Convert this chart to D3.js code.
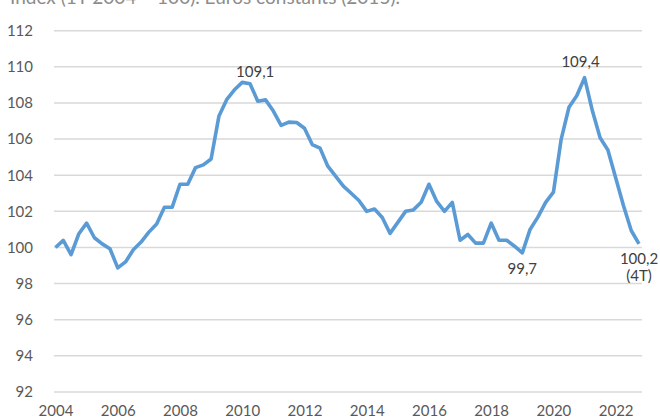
<!DOCTYPE html>
<html>
<head>
<meta charset="utf-8">
<script src="https://cdn.jsdelivr.net/npm/d3@7"></script>
<style>
  html, body { margin: 0; padding: 0; background: #fff; }
  svg { display: block; }
</style>
</head>
<body>
<svg id="chart" width="660" height="420"></svg>
<script>
// quarterly index, 1T 2004 .. 4T 2022
const years = d3.range(2004, 2023);
const quarters = ["1T", "2T", "3T", "4T"];
const values = [
  100.0, 100.39, 99.6, 100.76,
  101.35, 100.54, 100.2, 99.93,
  98.87, 99.2, 99.87, 100.3,
  100.85, 101.3, 102.23, 102.23,
  103.5, 103.5, 104.42, 104.57,
  104.9, 107.26, 108.18, 108.73,
  109.14, 109.06, 108.1, 108.17,
  107.55, 106.76, 106.94, 106.92,
  106.6, 105.7, 105.5, 104.5,
  103.95, 103.4, 103.0, 102.6,
  102.0, 102.13, 101.66, 100.78,
  101.39, 102.0, 102.08, 102.5,
  103.5, 102.55, 102.0, 102.5,
  100.4, 100.72, 100.24, 100.24,
  101.35, 100.4, 100.4, 100.07,
  99.7, 101.0, 101.68, 102.5,
  103.06, 106.0, 107.76, 108.4,
  109.4, 107.58, 106.07, 105.4,
  103.86, 102.32, 100.94, 100.2
];
const yTicks = d3.range(92, 113, 2);
const xTickYears = [2004, 2006, 2008, 2010, 2012, 2014, 2016, 2018, 2020, 2022];
const callouts = [
  { i: 24, text: ["109,1"], dx: 13, dy: -5 },
  { i: 68, text: ["109,4"], dx: -4, dy: -11 },
  { i: 60, text: ["99,7"], dx: 0, dy: 21 },
  { i: 75, text: ["100,2", "(4T)"], dx: 0, dy: 20 }
];
const title = "Índex (1T 2004 = 100). Euros constants (2015).";

const data = values.map((v, i) => ({
  i: i, year: years[Math.floor(i / 4)], q: quarters[i % 4], v: v
}));

const svg = d3.select("#chart");
const font = "Lato, 'Open Sans', sans-serif";

const x = d3.scaleLinear().domain([0, values.length - 1]).range([55.5, 639]);
const y = d3.scaleLinear().domain([92, 112]).range([392, 30.7]);

// title (cut at top like the source)
svg.append("text")
  .attr("x", 10).attr("y", 4)
  .attr("font-family", font).attr("font-size", 19)
  .attr("fill", "#8c8c8c")
  .text(title);

// grid
svg.append("g")
  .selectAll("line")
  .data(yTicks)
  .join("line")
  .attr("x1", 54).attr("x2", 642)
  .attr("y1", d => y(d)).attr("y2", d => y(d))
  .attr("stroke", "#d9d9d9").attr("stroke-width", 1.5);

// y axis labels
const yAxis = svg.append("g")
  .attr("transform", "translate(33,0)")
  .call(d3.axisLeft(y).tickValues(yTicks).tickSize(0).tickPadding(0).tickFormat(d3.format("d")));
yAxis.select(".domain").remove();
yAxis.selectAll("text")
  .attr("font-family", font).attr("font-size", 15).attr("fill", "#595959");

// x axis labels at 1T of each even year
const xAxis = svg.append("g")
  .attr("transform", "translate(0,405)")
  .call(d3.axisBottom(x)
    .tickValues(xTickYears.map(yr => (yr - years[0]) * 4))
    .tickSize(0).tickPadding(0)
    .tickFormat(d => years[0] + d / 4));
xAxis.select(".domain").remove();
xAxis.selectAll("text")
  .attr("font-family", font).attr("font-size", 15).attr("fill", "#595959");

// line
const line = d3.line().x(d => x(d.i)).y(d => y(d.v));
svg.append("path")
  .datum(data)
  .attr("fill", "none")
  .attr("stroke", "#5b9bd5")
  .attr("stroke-width", 3.6)
  .attr("stroke-linejoin", "round")
  .attr("d", line);

// callouts
callouts.forEach(c => {
  const t = svg.append("text")
    .attr("x", x(c.i) + c.dx)
    .attr("y", y(values[c.i]) + c.dy)
    .attr("text-anchor", "middle")
    .attr("font-family", font).attr("font-size", 15)
    .attr("fill", "#404040");
  c.text.forEach((s, k) => {
    t.append("tspan")
      .attr("x", x(c.i) + c.dx)
      .attr("dy", k === 0 ? 0 : 17)
      .text(s);
  });
});
</script>
</body>
</html>
